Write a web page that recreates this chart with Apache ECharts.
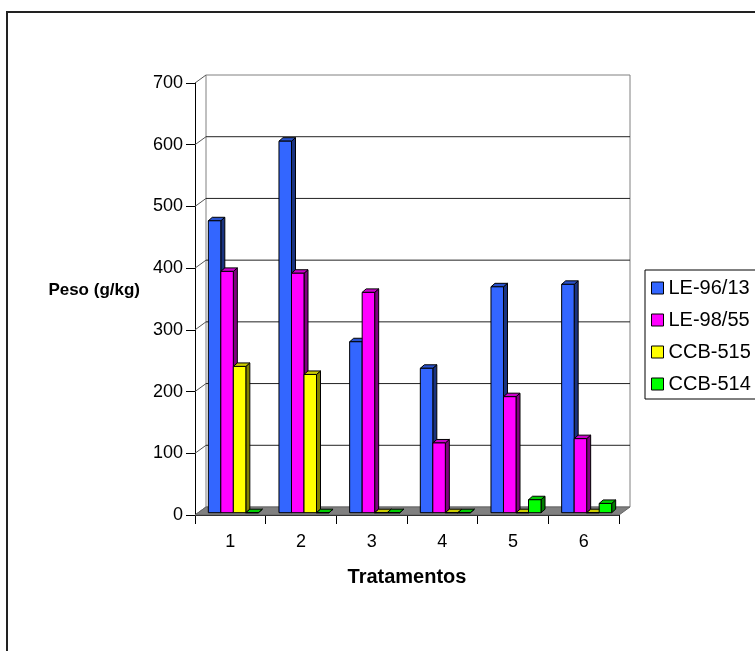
<!DOCTYPE html>
<html><head><meta charset="utf-8">
<script src="https://cdn.jsdelivr.net/npm/echarts@6/dist/echarts.min.js"></script>
<style>html,body{margin:0;padding:0;background:#fff;overflow:hidden}#c{width:755px;height:651px}</style>
</head><body><div id="c"></div><script>
// ---- data ----
const categories = ['1', '2', '3', '4', '5', '6'];
const seriesNames = ['LE-96/13', 'LE-98/55', 'CCB-515', 'CCB-514'];
const le9613 = [473, 602, 277, 234, 366, 370];
const le9855 = [391, 388, 357, 113, 188, 120];
const ccb515 = [237, 224, 0, 0, 0, 0];
const ccb514 = [0, 0, 0, 0, 21, 15];
const yTicks = [0, 100, 200, 300, 400, 500, 600, 700];

// ---- styles ----
const FONT = 'Liberation Sans, Arial, sans-serif';
const frontColors = ['#3366FF', '#FF00FF', '#FFFF00', '#00FF00'];
const sideColors = ['#1A3380', '#800080', '#808000', '#008000'];
const topColors = ['#2952CC', '#CC00CC', '#CCCC00', '#00CC00'];
const WALL = { dx: 11, dy: -8 };
const BAR = { dx: 4, dy: -3.5, shiftX: 3, shiftY: -2.3, frac: 0.177 };

const allValues = [le9613, le9855, ccb515, ccb514];

function barRenderer(sIdx) {
  return function (params, api) {
    const cat = api.value(0), v = api.value(1);
    const base = api.coord([cat, 0]);
    const top = api.coord([cat, v]);
    const band = api.size([1, 0])[0];
    const bw = band * BAR.frac;
    const x0 = base[0] - 2 * bw + sIdx * bw + BAR.shiftX;
    const x1 = x0 + bw;
    const yb = base[1] + BAR.shiftY, yt = top[1] + BAR.shiftY;
    const dx = BAR.dx, dy = BAR.dy;
    const st = { stroke: '#000', lineWidth: 1 };
    return {
      type: 'group', children: [
        { type: 'polygon', shape: { points: [[x1, yt], [x1 + dx, yt + dy], [x1 + dx, yb + dy], [x1, yb]] }, style: Object.assign({ fill: sideColors[sIdx] }, st) },
        { type: 'polygon', shape: { points: [[x0, yt], [x0 + dx, yt + dy], [x1 + dx, yt + dy], [x1, yt]] }, style: Object.assign({ fill: topColors[sIdx] }, st) },
        { type: 'rect', shape: { x: x0, y: yt, width: bw, height: yb - yt }, style: Object.assign({ fill: frontColors[sIdx] }, st) }
      ]
    };
  };
}

function frameRenderer(params, api) {
  const band = api.size([1, 0])[0];
  const L = api.coord([0, 0])[0] - band / 2;
  const R = api.coord([categories.length - 1, 0])[0] + band / 2;
  const y0 = api.coord([0, yTicks[0]])[1];
  const yTop = api.coord([0, yTicks[yTicks.length - 1]])[1];
  const dx = WALL.dx, dy = WALL.dy;
  const children = [];
  children.push({ type: 'rect', shape: { x: L + dx, y: yTop + dy, width: R - L, height: y0 - yTop }, style: { fill: '#fff', stroke: '#808080', lineWidth: 1 } });
  yTicks.forEach(function (t, i) {
    const y = api.coord([0, t])[1];
    if (i > 0 && i < yTicks.length - 1) {
      children.push({ type: 'line', shape: { x1: L + dx, y1: y + dy, x2: R + dx, y2: y + dy }, style: { stroke: '#222', lineWidth: 1 } });
    }
    children.push({ type: 'line', shape: { x1: L, y1: y, x2: L + dx, y2: y + dy }, style: { stroke: '#555', lineWidth: 1 } });
  });
  children.push({ type: 'polygon', shape: { points: [[L, y0], [L + dx, y0 + dy], [R + dx, y0 + dy], [R, y0]] }, style: { fill: '#808080', stroke: '#666', lineWidth: 1 } });
  return { type: 'group', children: children };
}

const series = [{
  type: 'custom', name: 'frame', silent: true, z: 1,
  renderItem: frameRenderer, data: [[0, 0]], encode: { x: 0, y: 1 }
}];
allValues.forEach(function (vals, s) {
  series.push({
    type: 'custom', name: seriesNames[s], z: 3 + s,
    renderItem: barRenderer(s),
    itemStyle: { color: frontColors[s], borderColor: '#000', borderWidth: 1 },
    data: vals.map(function (v, i) { return [i, v]; }),
    encode: { x: 0, y: 1 }
  });
});

const chart = echarts.init(document.getElementById('c'), null, { renderer: 'canvas' });
chart.setOption({
  backgroundColor: '#fff',
  animation: false,
  textStyle: { fontFamily: FONT },
  grid: { left: 195, right: 136, top: 83, bottom: 136, containLabel: false },
  xAxis: {
    type: 'category', data: categories, boundaryGap: true,
    axisLine: { show: true, lineStyle: { color: '#000', width: 1 } },
    axisTick: { show: true, length: 9, lineStyle: { color: '#000' } },
    axisLabel: { fontSize: 18, color: '#000', margin: 18, fontFamily: FONT },
    splitLine: { show: false },
    name: 'Tratamentos', nameLocation: 'middle', nameGap: 52,
    nameTextStyle: { fontSize: 20, fontWeight: 'bold', color: '#000', fontFamily: FONT }
  },
  yAxis: {
    type: 'value', min: 0, max: 700, interval: 100,
    axisLine: { show: true, lineStyle: { color: '#000', width: 1 } },
    axisTick: { show: true, length: 9, lineStyle: { color: '#000' } },
    axisLabel: { fontSize: 18, color: '#000', margin: 12, fontFamily: FONT },
    splitLine: { show: false },
    name: 'Peso (g/kg)', nameLocation: 'middle', nameRotate: 0, nameGap: 55,
    nameTextStyle: { fontSize: 17, fontWeight: 'bold', color: '#000', fontFamily: FONT, align: 'right', verticalAlign: 'bottom' }
  },
  legend: {
    data: seriesNames, orient: 'vertical', left: 645, top: 270,
    itemWidth: 12, itemHeight: 12, itemGap: 12, itemTextGap: 8,
    padding: [8, 8, 5, 6], borderColor: '#000', borderWidth: 1, borderRadius: 0,
    icon: 'rect', selectedMode: false,
    itemStyle: { borderColor: '#000', borderWidth: 1 },
    textStyle: { fontSize: 20, color: '#000', fontFamily: FONT }
  },
  graphic: [{
    type: 'rect', silent: true, z: -10,
    shape: { x: 7, y: 12, width: 800, height: 700 },
    style: { fill: null, stroke: '#222', lineWidth: 2 }
  }],
  series: series
});
</script></body></html>
